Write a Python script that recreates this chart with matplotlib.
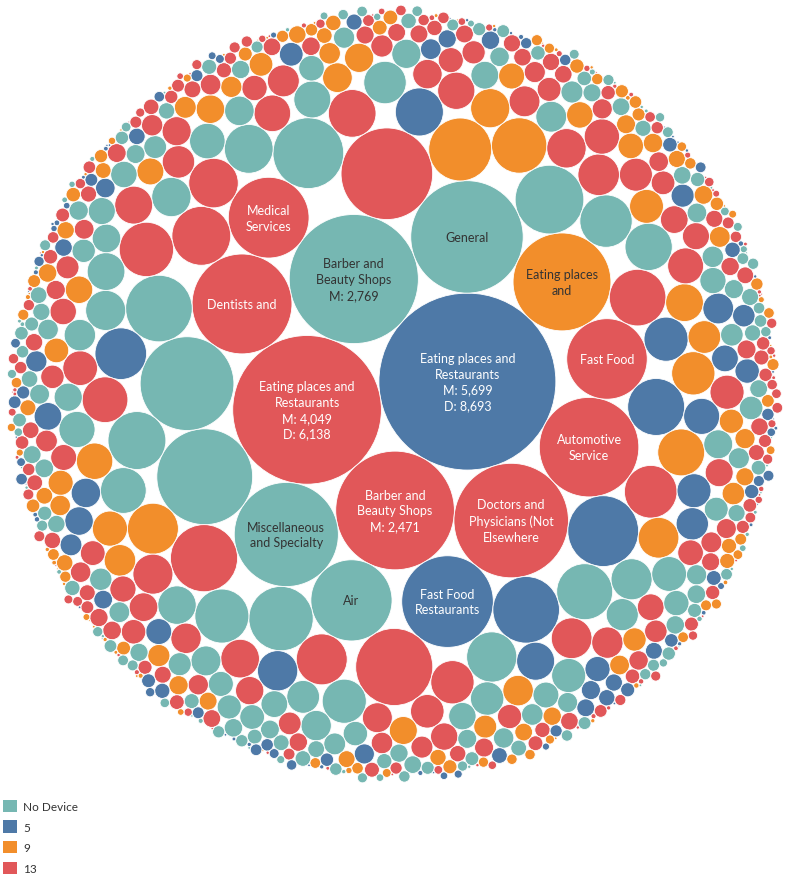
import math
import matplotlib
matplotlib.use("Agg")
import matplotlib.pyplot as plt
from matplotlib.patches import Circle, Patch
from matplotlib.collections import PatchCollection

plt.rcParams['font.family'] = ['Lato', 'DejaVu Sans']

# legend groups and colours
groups = ["No Device", "5", "9", "13"]
group_colors = ["#76b7b2", "#4e79a7", "#f28e2b", "#e15759"]

# labelled bubbles
labels = ["Eating places and\nRestaurants\nM: 5,699\nD: 8,693",
          "Eating places and\nRestaurants\nM: 4,049\nD: 6,138",
          "Barber and\nBeauty Shops\nM: 2,769",
          "Barber and\nBeauty Shops\nM: 2,471",
          "Doctors and\nPhysicians (Not\nElsewhere",
          "General",
          "Miscellaneous\nand Specialty",
          "Dentists and",
          "Automotive\nService",
          "Eating places\nand",
          "Fast Food\nRestaurants",
          "Air",
          "Medical\nServices",
          "Fast Food"]
label_groups = ["5", "13", "No Device", "13", "13", "No Device", "No Device",
                "13", "13", "9", "5", "No Device", "13", "13"]
label_values = [8693, 6138, 4630, 3910, 3640, 3510, 3010,
                2770, 2750, 2660, 2330, 1830, 1810, 1800]

# unlabelled bubbles per group
no_device_values = [
    2550, 2440, 1390, 1310, 1230, 1150,
    930, 870, 810, 760, 700, 660, 620, 580, 540, 500,
    468, 445, 428, 410, 395, 378, 362, 350, 336, 322, 310, 298, 286, 274, 264,
    255, 248, 242, 236, 232, 226, 220,
    214, 208, 203, 198, 194, 190, 186, 181, 177, 173, 169, 165, 161, 158, 154,
    151, 147, 144, 141, 138, 135, 132, 129, 127, 124, 122, 119, 117, 115, 113,
    111, 109, 107, 105, 103, 101, 100, 99, 98, 97, 96, 95, 94, 93, 92, 91, 90,
    89, 88, 87,
    86, 85, 84, 82, 81, 80, 78, 77, 76, 74, 73, 72, 70, 69, 68, 66, 65, 64, 63,
    62, 61, 60, 59, 58, 57, 56, 55, 54, 53, 52, 51, 50, 49, 48, 47, 46, 46, 45,
    44, 43, 43, 42, 41, 40, 40, 39, 38, 38, 37, 36, 36, 35, 35, 34, 34, 33, 33,
    32, 32, 31, 31, 30, 30, 29, 29,
    28, 27, 26, 25, 24, 23, 22, 21, 20, 19, 18, 17, 16, 15, 14, 13, 12, 11, 10, 9,
    8, 7, 7, 6, 6, 5, 5, 5, 4, 4, 4, 4, 3, 3, 3, 3, 3, 2, 2, 2, 2, 2, 2,
    1.5, 1.5, 1.5, 1, 1, 1, 1]
five_values = [
    1390, 1230,
    900, 740, 640, 540,
    450, 400, 360, 320, 290, 262, 240,
    225, 212, 198, 186, 175, 165, 156, 148, 140, 132, 125, 118, 112, 106, 101,
    97, 94, 91,
    88, 85, 82, 79, 76, 74, 71, 68, 66, 64, 61, 59, 57, 55, 53, 51, 50, 48, 46,
    45, 43, 42, 41, 40, 39, 38, 37, 36, 35, 34, 33, 32, 31, 30, 29,
    27, 26, 24, 22, 21, 20, 18, 17, 16, 14, 13, 12, 11, 10, 9,
    8, 8, 7, 7, 7, 6, 6, 6, 5, 5, 5, 5, 4, 4, 4, 4, 4, 3, 3, 3, 3, 3, 3,
    2, 2, 2, 2, 2, 2, 2, 1.5, 1.5, 1.5, 1.5, 1, 1, 1, 1, 1, 1]
nine_values = [
    1100,
    850, 720, 610, 520,
    460, 425, 395, 368, 342, 318, 296, 276, 258, 244, 236,
    226, 217, 209, 201, 194, 187, 180, 174, 168, 162, 156, 151, 146, 141, 136,
    132, 128, 124, 120, 116, 112, 108, 105, 102, 99, 97, 95, 93, 91, 89,
    87, 85, 83, 81, 79, 77, 75, 73, 71, 69, 68, 66, 64, 63, 61, 60, 58, 57, 55,
    54, 53, 51, 50, 49, 48, 47, 46, 45, 44, 43, 42, 41, 40, 39, 38, 37, 36, 36,
    35, 34, 34, 33, 32, 32, 31, 31, 30, 30, 29, 29,
    28, 26, 25, 23, 22, 21, 19, 18, 17, 15, 14, 13, 12, 11, 10,
    8, 7, 7, 6, 6, 6, 5, 5, 5, 5, 4, 4, 4, 4, 3, 3, 3, 3, 3,
    2, 2, 2, 2, 2, 2, 1.5, 1.5, 1.5, 1.5, 1, 1, 1, 1, 1, 1]
thirteen_values = [
    2330, 1650, 1250,
    960, 890, 820, 770, 720, 680, 630, 580, 520,
    478, 460, 444, 430, 414, 398, 384, 372, 358, 346, 334, 322, 312, 302, 292,
    282, 272, 264, 256, 248, 240, 234, 228, 222,
    217, 212, 207, 202, 198, 194, 190, 186, 182, 178, 174, 170, 166, 162, 159,
    156, 152, 149, 146, 143, 140, 137, 134, 131, 128, 126, 123, 121, 118, 116,
    114, 112, 110, 108, 106, 104, 102, 100, 99, 98, 96, 95, 94, 93, 92, 91, 90,
    89, 88, 88, 87, 87, 86, 86, 85,
    85, 84, 83, 82, 81, 80, 79, 78, 76, 75, 74, 72, 71, 70, 69, 67, 66, 65, 64,
    63, 62, 61, 60, 59, 58, 57, 56, 55, 54, 53, 52, 51, 50, 49, 49, 48, 47, 46,
    46, 45, 44, 43, 43, 42, 41, 41, 40, 39, 39, 38, 37, 37, 36, 36, 35, 35, 34,
    34, 33, 33, 32, 32, 31, 31, 30, 30, 30, 29, 29, 28,
    28, 27, 26, 25, 24, 24, 23, 22, 21, 20, 19, 19, 18, 17, 16, 15, 15, 14, 13,
    12, 12, 11, 10, 10, 9,
    8, 8, 7, 7, 7, 6, 6, 6, 5, 5, 5, 5, 4, 4, 4, 4, 4, 3, 3, 3, 3, 3, 3,
    2, 2, 2, 2, 2, 2, 2, 1.5, 1.5, 1.5, 1.5, 1, 1, 1, 1, 1, 1]


# --- circle packing (front-chain, like d3.packSiblings) ---
class Node:
    def __init__(self, c):
        self.c = c
        self.next = None
        self.prev = None


def place(b, a, c):
    dx = b[0] - a[0]
    dy = b[1] - a[1]
    d2 = dx * dx + dy * dy
    if d2:
        a2 = (a[2] + c[2]) ** 2
        b2 = (b[2] + c[2]) ** 2
        if a2 > b2:
            x = (d2 + b2 - a2) / (2 * d2)
            y = math.sqrt(max(0, b2 / d2 - x * x))
            c[0] = b[0] - x * dx - y * dy
            c[1] = b[1] - x * dy + y * dx
        else:
            x = (d2 + a2 - b2) / (2 * d2)
            y = math.sqrt(max(0, a2 / d2 - x * x))
            c[0] = a[0] + x * dx - y * dy
            c[1] = a[1] + x * dy + y * dx
    else:
        c[0] = a[0] + c[2]
        c[1] = a[1]


def intersects(a, b):
    dr = a[2] + b[2] - 1e-6
    dx = b[0] - a[0]
    dy = b[1] - a[1]
    return dr > 0 and dr * dr > dx * dx + dy * dy


def score(node):
    a = node.c
    b = node.next.c
    ab = a[2] + b[2]
    dx = (a[0] * b[2] + b[0] * a[2]) / ab
    dy = (a[1] * b[2] + b[1] * a[2]) / ab
    return dx * dx + dy * dy


def pack(circles):
    n = len(circles)
    a = circles[0]
    a[0], a[1] = 0, 0
    b = circles[1]
    a[0] = -b[2]
    b[0], b[1] = a[2], 0
    c = circles[2]
    place(b, a, c)
    a, b, c = Node(a), Node(b), Node(c)
    a.next = c.prev = b
    b.next = a.prev = c
    c.next = b.prev = a
    i = 3
    while i < n:
        cc = circles[i]
        place(a.c, b.c, cc)
        c = Node(cc)
        j, k = b.next, a.prev
        sj, sk = b.c[2], a.c[2]
        hit = False
        while True:
            if sj <= sk:
                if intersects(j.c, c.c):
                    b = j
                    a.next = b
                    b.prev = a
                    hit = True
                    break
                sj += j.c[2]
                j = j.next
            else:
                if intersects(k.c, c.c):
                    a = k
                    a.next = b
                    b.prev = a
                    hit = True
                    break
                sk += k.c[2]
                k = k.prev
            if j is k.next:
                break
        if hit:
            continue
        c.prev = a
        c.next = b
        a.next = c
        b.prev = c
        b = c
        aa = score(a)
        c = c.next
        while c is not b:
            ca = score(c)
            if ca < aa:
                a = c
                aa = ca
            c = c.next
        b = a.next
        i += 1


# build bubble records, biggest first
records = []
for lab, g, v in zip(labels, label_groups, label_values):
    records.append((v, g, lab))
for g, vals in zip(groups, [no_device_values, five_values, nine_values, thirteen_values]):
    for v in vals:
        records.append((v, g, None))
records.sort(key=lambda r: -r[0])

circles = [[0.0, 0.0, math.sqrt(v)] for v, g, lab in records]
pack(circles)

# orient: biggest on the right, second on the left, third above
c0, c1, c2 = circles[0], circles[1], circles[2]
cross = (c1[0] - c0[0]) * (c2[1] - c0[1]) - (c1[1] - c0[1]) * (c2[0] - c0[0])
if cross > 0:
    for c in circles:
        c[1] = -c[1]
ang = math.atan2(c1[1] - c0[1], c1[0] - c0[0])
rot = math.radians(190) - ang
cr, sr = math.cos(rot), math.sin(rot)
for c in circles:
    c[0], c[1] = c[0] * cr - c[1] * sr, c[0] * sr + c[1] * cr

xs_min = min(c[0] - c[2] for c in circles)
xs_max = max(c[0] + c[2] for c in circles)
ys_min = min(c[1] - c[2] for c in circles)
ys_max = max(c[1] + c[2] for c in circles)
cx, cy = (xs_min + xs_max) / 2, (ys_min + ys_max) / 2
R = max(math.hypot(c[0] - cx, c[1] - cy) + c[2] for c in circles)

color_of = dict(zip(groups, group_colors))

fig = plt.figure(figsize=(7.88, 8.78), dpi=100)
ax = fig.add_axes([(395 - 390.5) / 788, (878 - 395 - 390.5) / 878, 781 / 788, 781 / 878])
patches = [Circle((c[0], c[1]), c[2]) for c in circles]
pc = PatchCollection(patches, facecolors=[color_of[r[1]] for r in records],
                     edgecolors="white", linewidths=0.6)
ax.add_collection(pc)

for c, (v, g, lab) in zip(circles, records):
    if lab:
        tc = "white" if g in ("5", "13") else "#333333"
        ax.text(c[0], c[1], lab, ha="center", va="center", fontsize=9,
                color=tc, linespacing=1.38)

ax.set_xlim(cx - R, cx + R)
ax.set_ylim(cy - R, cy + R)
ax.set_aspect("equal")
ax.axis("off")

handles = [Patch(facecolor=col, edgecolor="none") for col in group_colors]
fig.legend(handles, groups, loc="lower left", bbox_to_anchor=(2.7 / 788, 3 / 878),
           frameon=False, handlelength=1.25, handleheight=1.25, handletextpad=0.5,
           labelspacing=0.68, fontsize=8.5, labelcolor="#333333",
           borderpad=0, borderaxespad=0)

fig.savefig("out.png", dpi=100)
